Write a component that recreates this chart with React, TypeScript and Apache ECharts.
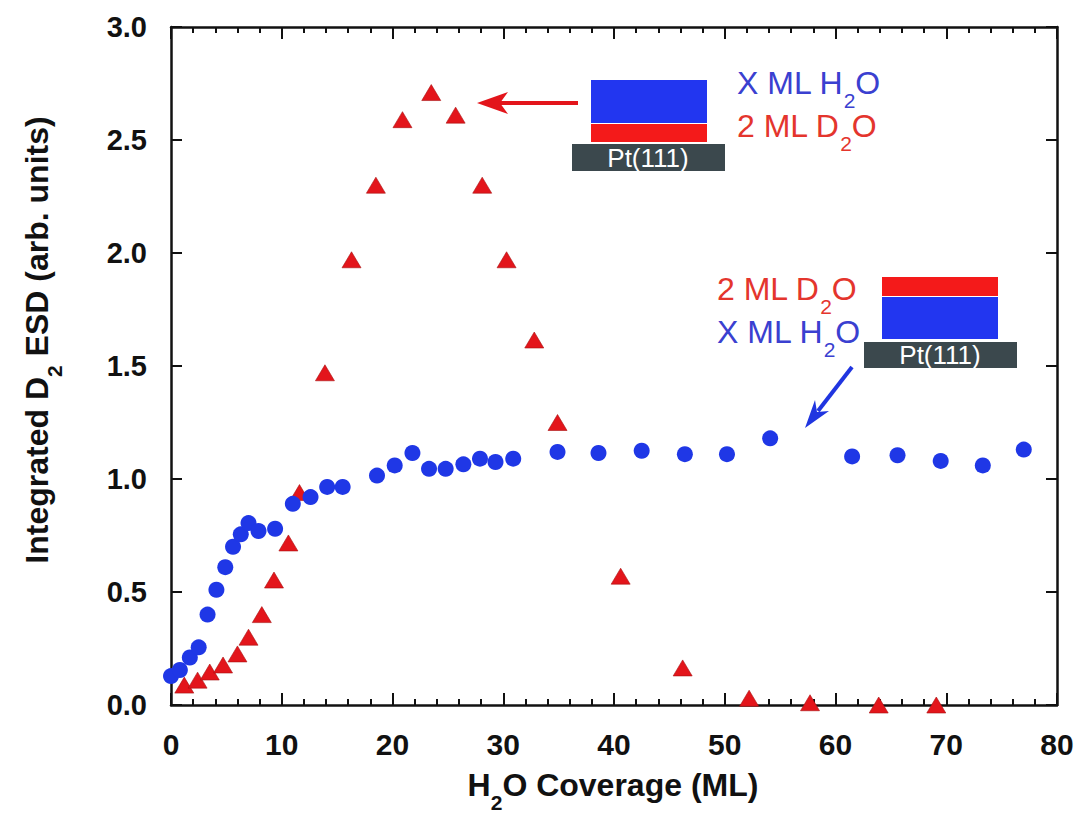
import React, { useEffect, useRef } from "react";
import * as echarts from "echarts";

// H2O on top of D2O (blue circles)
const blueX = [0.0, 0.8, 1.7, 2.5, 3.3, 4.1, 4.9, 5.6, 6.3, 7.0, 7.9, 9.4, 11.0, 12.6, 14.1, 15.5, 18.6, 20.2, 21.8, 23.3, 24.8, 26.4, 27.9, 29.3, 30.9, 34.9, 38.6, 42.5, 46.4, 50.2, 54.1, 61.5, 65.6, 69.5, 73.3, 77.0];
const blueY = [0.128, 0.155, 0.21, 0.255, 0.4, 0.51, 0.61, 0.7, 0.755, 0.805, 0.77, 0.78, 0.89, 0.92, 0.965, 0.965, 1.015, 1.06, 1.115, 1.045, 1.045, 1.065, 1.09, 1.075, 1.09, 1.12, 1.115, 1.125, 1.11, 1.11, 1.18, 1.1, 1.105, 1.08, 1.06, 1.13];

// D2O on top of H2O (red triangles)
const redX = [1.2, 2.4, 3.5, 4.7, 6.0, 7.0, 8.2, 9.3, 10.6, 11.6, 13.9, 16.3, 18.5, 20.9, 23.5, 25.7, 28.1, 30.3, 32.8, 34.9, 40.6, 46.2, 52.2, 57.7, 63.9, 69.1];
const redY = [0.088, 0.11, 0.146, 0.177, 0.226, 0.3, 0.4, 0.553, 0.717, 0.94, 1.47, 1.97, 2.3, 2.59, 2.71, 2.61, 2.3, 1.97, 1.615, 1.25, 0.57, 0.164, 0.03, 0.01, 0.0, 0.0];

const X_MIN = 0;
const X_MAX = 80;
const X_STEP = 10;
const Y_MIN = 0;
const Y_MAX = 3;
const Y_STEP = 0.5;

const FONT = "'Liberation Sans', Arial, Helvetica, sans-serif";
const AXIS_COLOR = "#111";
const BLUE = "#1f37e6";
const RED = "#e3151b";
const TXT_BLUE = "#3a40d0";
const TXT_RED = "#e4352d";

let measureCtx: CanvasRenderingContext2D | null = null;
function textWidth(s: string, size: number, weight: string) {
  if (!measureCtx) measureCtx = document.createElement("canvas").getContext("2d");
  if (!measureCtx) return s.length * size * 0.55;
  measureCtx.font = `${weight} ${size}px ${FONT}`;
  return measureCtx.measureText(s).width;
}

// text with a subscript, built from three pieces
function subLabel(
  x: number,
  y: number,
  pre: string,
  sub: string,
  post: string,
  color: string,
  size: number,
  weight: string,
  align: "left" | "center" = "left",
  rotation = 0
) {
  const subSize = Math.round(size * 0.66);
  const w1 = textWidth(pre, size, weight);
  const w2 = textWidth(sub, subSize, weight);
  const w3 = textWidth(post, size, weight);
  const total = w1 + w2 + w3;
  const x0 = align === "center" ? -total / 2 : 0;
  const mk = (text: string, dx: number, dy: number, fs: number) => ({
    type: "text",
    x: dx,
    y: dy,
    style: {
      text,
      fill: color,
      fontSize: fs,
      fontWeight: weight,
      fontFamily: FONT,
      align: "left",
      textAlign: "left",
      verticalAlign: "middle",
      textVerticalAlign: "middle",
    },
  });
  return {
    type: "group",
    x,
    y,
    rotation,
    children: [
      mk(pre, x0, 0, size),
      mk(sub, x0 + w1, size * 0.56, subSize),
      mk(post, x0 + w1 + w2, 0, size),
    ],
  };
}

export default function App() {
  const ref = useRef<HTMLDivElement>(null);
  useEffect(() => {
    const chart = echarts.init(ref.current!, null, { renderer: "svg" });
    const axisLine = { show: true, onZero: false, lineStyle: { color: AXIS_COLOR, width: 2.5 } };
    const tickStyle = { color: AXIS_COLOR, width: 2 };
    const labelStyle = { fontFamily: FONT, fontWeight: "bold", color: AXIS_COLOR };
    const xBase = {
      type: "value",
      min: X_MIN,
      max: X_MAX,
      interval: X_STEP,
      axisLine,
      axisTick: { show: true, inside: true, length: 12, lineStyle: tickStyle },
      minorTick: { show: true, splitNumber: 5, length: 6, lineStyle: tickStyle },
      splitLine: { show: false },
      minorSplitLine: { show: false },
    };
    const yBase = {
      type: "value",
      min: Y_MIN,
      max: Y_MAX,
      interval: Y_STEP,
      axisLine,
      axisTick: { show: true, inside: true, length: 11, lineStyle: tickStyle },
      splitLine: { show: false },
    };
    const ptText = (x: number, y: number) => ({
      type: "text",
      x,
      y,
      style: {
        text: "Pt(111)",
        fill: "#fff",
        fontSize: 26,
        fontFamily: FONT,
        align: "center",
        textAlign: "center",
        verticalAlign: "middle",
        textVerticalAlign: "middle",
      },
    });
    const option: any = {
      animation: false,
      backgroundColor: "#fff",
      grid: { left: 171, right: 20, top: 27, bottom: 109, containLabel: false },
      xAxis: [
        {
          ...xBase,
          position: "bottom",
          axisLabel: { ...labelStyle, fontSize: 30, margin: 24 },
        },
        { ...xBase, position: "top", axisLabel: { show: false } },
      ],
      yAxis: [
        {
          ...yBase,
          position: "left",
          axisLabel: {
            ...labelStyle,
            fontSize: 29,
            margin: 24,
            formatter: (v: number) => v.toFixed(1),
          },
        },
        { ...yBase, position: "right", axisLabel: { show: false } },
      ],
      series: [
        {
          name: "2 ML D2O on X ML H2O",
          type: "scatter",
          symbol: "triangle",
          symbolSize: [19, 16],
          itemStyle: { color: RED, borderColor: "#a81010", borderWidth: 0.6, opacity: 1 },
          clip: false,
          data: redX.map((x, i) => [x, redY[i]]),
          z: 3,
        },
        {
          name: "X ML H2O on 2 ML D2O",
          type: "scatter",
          symbol: "circle",
          symbolSize: 16,
          itemStyle: { color: BLUE, opacity: 1 },
          clip: false,
          data: blueX.map((x, i) => [x, blueY[i]]),
          z: 4,
        },
      ],
      graphic: {
        elements: [
          // upper schematic
          { type: "rect", shape: { x: 591, y: 80, width: 116, height: 43 }, style: { fill: "#2236f0" } },
          { type: "rect", shape: { x: 591, y: 124, width: 116, height: 18 }, style: { fill: "#f41a1a" } },
          { type: "rect", shape: { x: 572, y: 144, width: 153, height: 27 }, style: { fill: "#3b484d" } },
          ptText(648, 158),
          subLabel(737, 83, "X ML H", "2", "O", TXT_BLUE, 32, "normal"),
          subLabel(737, 126, "2 ML D", "2", "O", TXT_RED, 32, "normal"),
          { type: "line", shape: { x1: 578, y1: 103, x2: 496, y2: 103 }, style: { stroke: RED, lineWidth: 4 } },
          { type: "polygon", shape: { points: [[477, 103], [508, 92], [500, 103], [508, 114]] }, style: { fill: RED } },
          // lower schematic
          { type: "rect", shape: { x: 882, y: 277, width: 116, height: 19 }, style: { fill: "#f41a1a" } },
          { type: "rect", shape: { x: 882, y: 297, width: 116, height: 42 }, style: { fill: "#2236f0" } },
          { type: "rect", shape: { x: 864, y: 342, width: 153, height: 26 }, style: { fill: "#3b484d" } },
          ptText(940, 355),
          subLabel(717, 289, "2 ML D", "2", "O", TXT_RED, 32, "normal"),
          subLabel(717, 332, "X ML H", "2", "O", TXT_BLUE, 32, "normal"),
          { type: "line", shape: { x1: 852, y1: 367, x2: 818, y2: 411 }, style: { stroke: "#2035e0", lineWidth: 4 } },
          { type: "polygon", shape: { points: [[805, 428], [829, 411], [817, 412], [815, 400]] }, style: { fill: "#2035e0" } },
          // axis titles
          subLabel(613, 785, "H", "2", "O Coverage (ML)", AXIS_COLOR, 32, "bold", "center"),
          subLabel(37, 340, "Integrated D", "2", " ESD (arb. units)", AXIS_COLOR, 32, "bold", "center", Math.PI / 2),
        ],
      },
    };
    chart.setOption(option);
    return () => chart.dispose();
  }, []);
  return (
    <div
      ref={ref}
      style={{ position: "absolute", left: 0, top: 0, width: 1077, height: 814, background: "#fff" }}
    />
  );
}
